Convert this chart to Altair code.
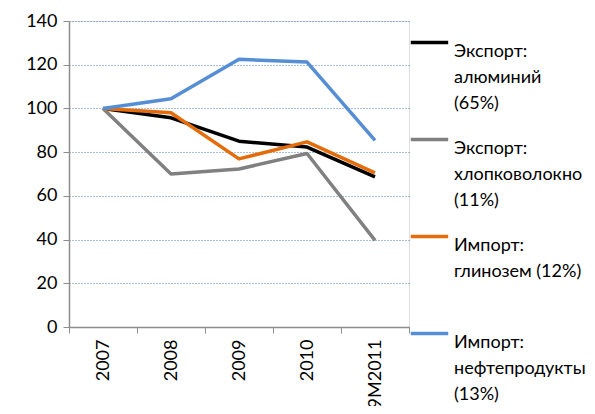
import altair as alt
import pandas as pd

years = ["2007", "2008", "2009", "2010", "9M2011"]
series_names = [
    "Экспорт: алюминий (65%)",
    "Экспорт: хлопковолокно (11%)",
    "Импорт: глинозем (12%)",
    "Импорт: нефтепродукты (13%)",
]
aluminum = [100, 95.7, 85.0, 82.3, 68.7]
cotton = [100, 70.0, 72.3, 79.4, 39.6]
alumina = [100, 98.0, 76.9, 84.7, 70.5]
oil = [100, 104.4, 122.5, 121.2, 85.4]
colors = ["#000000", "#808080", "#E46C0A", "#558ED5"]
# legend label lines
label_lines = {
    series_names[0]: ["Экспорт:", "алюминий", "(65%)"],
    series_names[1]: ["Экспорт:", "хлопковолокно", "(11%)"],
    series_names[2]: ["Импорт:", "глинозем (12%)", " "],
    series_names[3]: ["Импорт:", "нефтепродукты", "(13%)"],
}

rows = []
for name, vals in zip(series_names, [aluminum, cotton, alumina, oil]):
    for y, v in zip(years, vals):
        rows.append({"year": y, "value": v, "series": name})
df = pd.DataFrame(rows)

parts = []
for name, lines in label_lines.items():
    arr = "[" + ",".join("'" + l + "'" for l in lines) + "]"
    parts.append(f"datum.label == '{name}' ? {arr}")
label_expr = " : ".join(parts) + " : datum.label"

FONT = "Lato"

chart = alt.Chart(df).mark_line(strokeWidth=3.5, strokeJoin="round").encode(
    x=alt.X(
        "year:O",
        sort=years,
        bandPosition=0.5,
        scale=alt.Scale(type="band", paddingInner=0, paddingOuter=0),
        axis=alt.Axis(
            title=None,
            labelAngle=-90,
            labelAlign="right",
            labelBaseline="middle",
            labelFontSize=18,
            labelFont=FONT,
            labelColor="#000000",
            labelPadding=6,
            tickBand="extent",
            tickSize=6,
            tickColor="#8c8c8c",
            domainColor="#8c8c8c",
            domainWidth=1.5,
            grid=False,
        ),
    ),
    y=alt.Y(
        "value:Q",
        scale=alt.Scale(domain=[0, 140]),
        axis=alt.Axis(
            title=None,
            values=[0, 20, 40, 60, 80, 100, 120, 140],
            labelFontSize=18,
            labelFont=FONT,
            labelColor="#000000",
            labelPadding=6,
            tickSize=6,
            tickColor="#8c8c8c",
            domainColor="#8c8c8c",
            domainWidth=1.5,
            grid=True,
            gridColor="#4F81BD",
            gridDash=[1, 2],
            gridWidth=1,
        ),
    ),
    color=alt.Color(
        "series:N",
        sort=series_names,
        scale=alt.Scale(domain=series_names, range=colors),
        legend=alt.Legend(
            title=None,
            orient="none",
            legendX=340,
            legendY=1,
            symbolType="stroke",
            symbolStrokeWidth=3.5,
            symbolSize=1400,
            labelExpr=label_expr,
            labelFont=FONT,
            labelFontSize=18,
            labelColor="#000000",
            labelLimit=400,
            labelOffset=4,
            labelBaseline="top",
            rowPadding=6,
        ),
    ),
).properties(
    width=340,
    height=306,
    autosize=alt.AutoSizeParams(type="none"),
    padding={"left": 61, "top": 13, "right": 178, "bottom": 79},
).configure_view(stroke=None).configure(
    style={"guide-label": {"lineHeight": 26}}
)

chart.save("out.html", embed_options={"renderer": "svg", "actions": False})
